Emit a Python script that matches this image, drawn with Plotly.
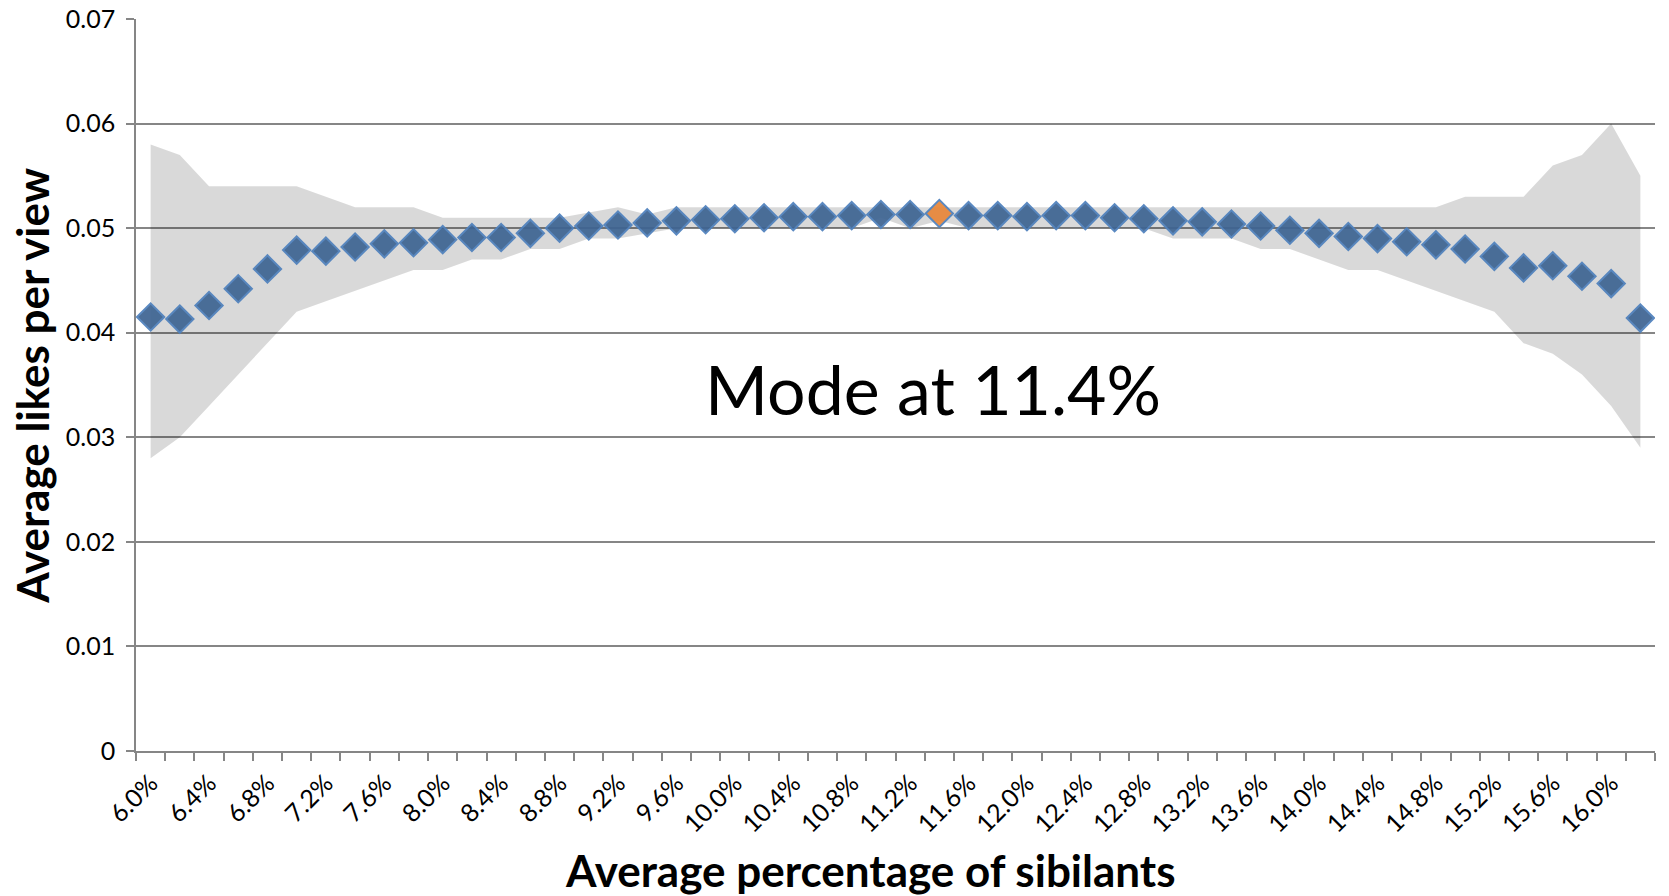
import plotly.graph_objects as go

pct = [6.0, 6.2, 6.4, 6.6, 6.8, 7.0, 7.2, 7.4, 7.6, 7.8,
       8.0, 8.2, 8.4, 8.6, 8.8, 9.0, 9.2, 9.4, 9.6, 9.8,
       10.0, 10.2, 10.4, 10.6, 10.8, 11.0, 11.2, 11.4, 11.6, 11.8,
       12.0, 12.2, 12.4, 12.6, 12.8, 13.0, 13.2, 13.4, 13.6, 13.8,
       14.0, 14.2, 14.4, 14.6, 14.8, 15.0, 15.2, 15.4, 15.6, 15.8,
       16.0, 16.2]

likes = [0.0415, 0.0413, 0.0426, 0.0442, 0.0461, 0.0479, 0.0478, 0.0482, 0.0485, 0.0486,
         0.0489, 0.0491, 0.0491, 0.0495, 0.0500, 0.0502, 0.0503, 0.0505, 0.0507, 0.0508,
         0.0509, 0.0510, 0.0511, 0.0511, 0.0512, 0.0513, 0.0513, 0.0514, 0.0512, 0.0512,
         0.0511, 0.0512, 0.0512, 0.0510, 0.0509, 0.0507, 0.0506, 0.0504, 0.0502, 0.0498,
         0.0495, 0.0492, 0.0490, 0.0487, 0.0484, 0.0480, 0.0473, 0.0462, 0.0464, 0.0454,
         0.0447, 0.0414]

upper = [0.058, 0.057, 0.054, 0.054, 0.054, 0.054, 0.053, 0.052, 0.052, 0.052,
         0.051, 0.051, 0.051, 0.051, 0.051, 0.0515, 0.052, 0.0513, 0.052, 0.052,
         0.052, 0.052, 0.052, 0.052, 0.052, 0.052, 0.052, 0.052, 0.052, 0.052,
         0.052, 0.052, 0.052, 0.052, 0.052, 0.052, 0.052, 0.052, 0.052, 0.052,
         0.052, 0.052, 0.052, 0.052, 0.052, 0.053, 0.053, 0.053, 0.056, 0.057,
         0.060, 0.055]

lower = [0.028, 0.030, 0.033, 0.036, 0.039, 0.042, 0.043, 0.044, 0.045, 0.046,
         0.046, 0.047, 0.047, 0.048, 0.048, 0.049, 0.049, 0.0495, 0.050, 0.050,
         0.050, 0.050, 0.050, 0.050, 0.050, 0.051, 0.050, 0.0507, 0.050, 0.050,
         0.050, 0.050, 0.050, 0.050, 0.050, 0.049, 0.049, 0.049, 0.048, 0.048,
         0.047, 0.046, 0.046, 0.045, 0.044, 0.043, 0.042, 0.039, 0.038, 0.036,
         0.033, 0.029]

mode_pct = 11.4
y_ticks = [0, 0.01, 0.02, 0.03, 0.04, 0.05, 0.06, 0.07]
y_tick_text = ["0", "0.01", "0.02", "0.03", "0.04", "0.05", "0.06", "0.07"]
x_tick_vals = pct[::2]
x_tick_text = [f"{v:.1f}%" for v in x_tick_vals]

FONT = "Lato"
BLUE_FILL = "#3F6593"
BLUE_LINE = "#4F81BD"
ORANGE = "#E8873A"
GRID = "#868686"

W, H = 1669, 896
L, R, T, B = 136, 14, 19, 144.5
PW, PH = W - L - R, H - T - B

fig = go.Figure()

fig.add_trace(go.Scatter(x=pct, y=lower, mode="lines", line=dict(width=0),
                         hoverinfo="skip", showlegend=False))
fig.add_trace(go.Scatter(x=pct, y=upper, mode="lines", line=dict(width=0),
                         fill="tonexty", fillcolor="rgba(0,0,0,0.15)",
                         hoverinfo="skip", showlegend=False))

colors = [ORANGE if abs(p - mode_pct) < 1e-9 else BLUE_FILL for p in pct]
fig.add_trace(go.Scatter(x=pct, y=likes, mode="markers",
                         marker=dict(symbol="diamond", size=21, color=colors,
                                     opacity=0.93,
                                     line=dict(color=BLUE_LINE, width=2)),
                         showlegend=False))

fig.add_annotation(x=11.355, y=0.0347, xref="x", yref="y", text="Mode at 11.4%",
                   showarrow=False, font=dict(family=FONT, size=68, color="#000000"),
                   xanchor="center", yanchor="middle")

fig.add_annotation(x=(870 - L) / PW, y=-(871 - (H - B)) / PH, xref="paper", yref="paper",
                   text="<b>Average percentage of sibilants</b>",
                   showarrow=False, font=dict(family=FONT, size=44, color="#000000"),
                   xanchor="center", yanchor="middle")

fig.add_annotation(x=(32 - L) / PW, y=((H - B) - 386) / PH, xref="paper", yref="paper",
                   text="<b>Average likes per view</b>", textangle=-90,
                   showarrow=False, font=dict(family=FONT, size=44, color="#000000"),
                   xanchor="center", yanchor="middle")

fig.update_layout(
    width=W, height=H,
    margin=dict(l=L, r=R, t=T, b=B, autoexpand=False),
    paper_bgcolor="white", plot_bgcolor="white",
    font=dict(family=FONT, size=25, color="#000000"),
    showlegend=False,
    xaxis=dict(
        range=[5.9, 16.3], automargin=False,
        tickmode="array", tickvals=x_tick_vals, ticktext=x_tick_text,
        tickangle=-45, ticks="", showgrid=False, zeroline=False,
        showline=True, linecolor=GRID, linewidth=1.5,
        ticklabelstandoff=6,
        minor=dict(tickmode="linear", tick0=5.9, dtick=0.2, ticks="outside",
                   ticklen=8, tickcolor=GRID, tickwidth=1.5, showgrid=False),
        tickfont=dict(family=FONT, size=25),
    ),
    yaxis=dict(
        range=[0, 0.07], automargin=False,
        tickmode="array", tickvals=y_ticks, ticktext=y_tick_text,
        ticks="outside", ticklen=8, tickcolor=GRID, tickwidth=1.5,
        showgrid=True, gridcolor=GRID, gridwidth=1.5,
        zeroline=False, showline=True, linecolor=GRID, linewidth=1.5,
        ticklabelstandoff=6,
        tickfont=dict(family=FONT, size=25),
    ),
)

fig.write_html("out.html", config={"displayModeBar": False},
               post_script="document.body.style.margin='0px';")
